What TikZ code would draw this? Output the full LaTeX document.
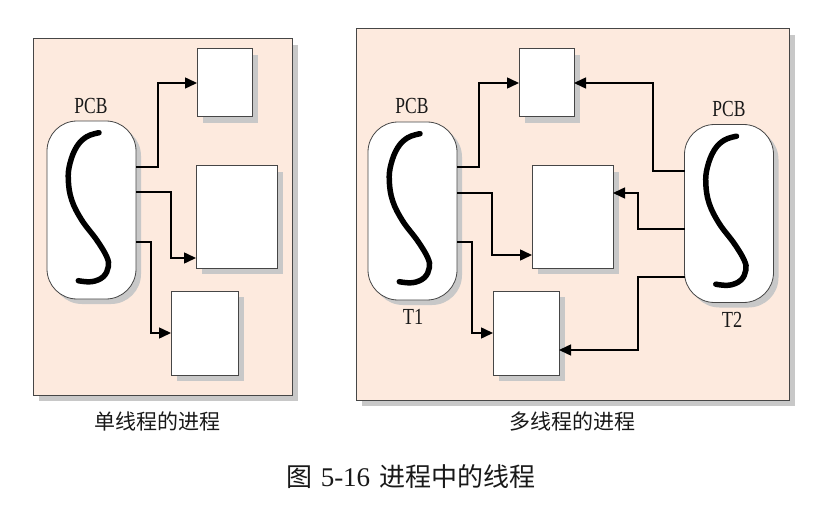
\documentclass[tikz,border=0pt]{standalone}
\usepackage{fontspec}
\setmainfont{Liberation Serif}
\newfontfamily\cjk{Noto Sans CJK SC}
\usetikzlibrary{arrows.meta,shadows}
\definecolor{panelfill}{RGB}{253,234,222}
\definecolor{shadowgray}{RGB}{200,200,200}
\definecolor{edgegray}{RGB}{70,70,70}
\definecolor{txt}{RGB}{25,25,25}
\begin{document}
\begin{tikzpicture}[x=1pt,y=-1pt,
  shad/.style={drop shadow={shadow xshift=6pt,shadow yshift=-6pt,fill=shadowgray,opacity=1}},
  panel/.style={draw=edgegray,line width=1pt,fill=panelfill,inner sep=0pt,outer sep=0pt,shad},
  pill/.style={draw=edgegray,line width=0.8pt,fill=white,rounded corners=30pt,inner sep=0pt,outer sep=0pt,
    minimum width=89pt,minimum height=178pt,drop shadow={shadow xshift=5pt,shadow yshift=-5pt,fill=shadowgray,opacity=1}},
  blk/.style={draw=edgegray,line width=1pt,fill=white,inner sep=0pt,outer sep=0pt,shad},
  arr/.style={line width=1.5pt,-{Triangle[length=12pt,width=11pt]}},
  lbl/.style={text=txt,font=\fontsize{23}{23}\selectfont,inner sep=0pt},
  cjklbl/.style={text=txt,font=\cjk\fontsize{21}{21}\selectfont,inner sep=0pt},
  scurve/.pic={\draw[line width=5.5pt,line cap=round] plot[smooth,tension=0.65] coordinates
    {(7.5,-77.3) (-4.8,-73.3) (-14.8,-63.3) (-21.5,-46.7) (-23.2,-30) (-19.8,-10) (-9.8,10) (5.2,30) (15.2,46.7) (16.8,56.7) (11.8,66.7) (0.2,71.7) (-13.2,70.7)};}
]
\useasboundingbox (0,0) rectangle (828,516);
\fill[white] (0,0) rectangle (828,516);

% panels
\node[panel,minimum width=259pt,minimum height=356pt] (P1) at (162.5,217) {};
\node[panel,minimum width=433pt,minimum height=371pt] (P2) at (572.5,214.5) {};

% ---- left: single-threaded process
\node[pill] (p0) at (91.5,210) {};
\pic at (p0.center) {scurve};
\node[lbl] (pcb0) at (91,106) {\scalebox{0.76}[1]{PCB}};
\node[blk,minimum width=55pt,minimum height=68pt] (L1) at (224.5,83) {};
\node[blk,minimum width=81pt,minimum height=102pt] (L2) at (236.5,217) {};
\node[blk,minimum width=67pt,minimum height=84pt] (L3) at (204.5,333) {};
\draw[arr] (p0.east |- 0,167) -| (158,120) |- (L1.west);
\draw[arr] (p0.east |- 0,192) -| (171,230) |- ([yshift=-41pt]L2.west);
\draw[arr] (p0.east |- 0,242) -| (151,300) |- (L3.west);
\node[cjklbl] (t0) at (157,421) {单线程的进程};

% ---- right: multi-threaded process
\node[pill] (p1) at (412.5,211) {};
\pic at (p1.center) {scurve};
\node[pill] (p2) at (729,213.5) {};
\pic at (p2.center) {scurve};
\node[lbl] (pcb1) at (412,106) {\scalebox{0.76}[1]{PCB}};
\node[lbl] (pcb2) at (729,109) {\scalebox{0.76}[1]{PCB}};
\node[lbl] (n1) at (413,317) {\scalebox{0.8}[1]{T1}};
\node[lbl] (n2) at (732,320) {\scalebox{0.8}[1]{T2}};
\node[blk,minimum width=55pt,minimum height=68pt] (A) at (546.5,83) {};
\node[blk,minimum width=81pt,minimum height=102pt] (B) at (572.5,217) {};
\node[blk,minimum width=66pt,minimum height=84pt] (C) at (526,333) {};
\draw[arr] (p1.east |- 0,167) -| (479,120) |- (A.west);
\draw[arr] (p1.east |- 0,193) -| (492,230) |- ([yshift=-38pt]B.west);
\draw[arr] (p1.east |- 0,242) -| (472,300) |- (C.west);
\draw[arr] (p2.west |- 0,171) -| (653,120) |- (A.east);
\draw[arr] (p2.west |- 0,229) -| (638,210) |- ([yshift=24pt]B.east);
\draw[arr] (p2.west |- 0,277) -| (638,320) |- ([yshift=-17pt]C.east);
\node[cjklbl] (t1) at (572,421) {多线程的进程};

% caption
\node[text=txt,inner sep=0pt,font=\fontsize{27}{27}\selectfont] (fig) at (411,477)
  {{\cjk\fontsize{26}{26}\selectfont 图}\hspace{8pt}5-16\hspace{9pt}{\cjk\fontsize{26}{26}\selectfont 进程中的线程}};
\end{tikzpicture}
\end{document}
